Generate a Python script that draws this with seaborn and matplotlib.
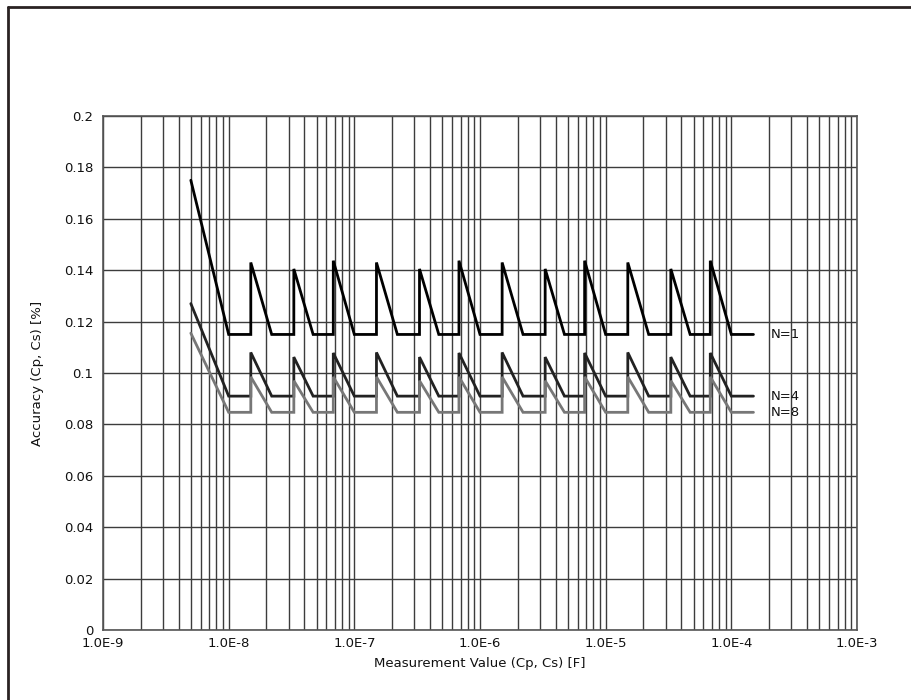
import numpy as np
import pandas as pd
import matplotlib
matplotlib.use("Agg")
import matplotlib.pyplot as plt
from matplotlib.lines import Line2D
import matplotlib.ticker as mticker
import seaborn as sns

# ---- data ----
x_values = [5e-9,
            1e-8, 1.5e-8, 1.5e-8, 2.2e-8, 3.3e-8, 3.3e-8, 4.7e-8, 6.8e-8, 6.8e-8,
            1e-7, 1.5e-7, 1.5e-7, 2.2e-7, 3.3e-7, 3.3e-7, 4.7e-7, 6.8e-7, 6.8e-7,
            1e-6, 1.5e-6, 1.5e-6, 2.2e-6, 3.3e-6, 3.3e-6, 4.7e-6, 6.8e-6, 6.8e-6,
            1e-5, 1.5e-5, 1.5e-5, 2.2e-5, 3.3e-5, 3.3e-5, 4.7e-5, 6.8e-5, 6.8e-5,
            1e-4, 1.5e-4]

n1_values = [0.175,
             0.115, 0.115, 0.143, 0.115, 0.115, 0.1405, 0.115, 0.115, 0.1437,
             0.115, 0.115, 0.143, 0.115, 0.115, 0.1405, 0.115, 0.115, 0.1437,
             0.115, 0.115, 0.143, 0.115, 0.115, 0.1405, 0.115, 0.115, 0.1437,
             0.115, 0.115, 0.143, 0.115, 0.115, 0.1405, 0.115, 0.115, 0.1437,
             0.115, 0.115]

n4_values = [0.127,
             0.091, 0.091, 0.108, 0.091, 0.091, 0.1062, 0.091, 0.091, 0.1078,
             0.091, 0.091, 0.108, 0.091, 0.091, 0.1062, 0.091, 0.091, 0.1078,
             0.091, 0.091, 0.108, 0.091, 0.091, 0.1062, 0.091, 0.091, 0.1078,
             0.091, 0.091, 0.108, 0.091, 0.091, 0.1062, 0.091, 0.091, 0.1078,
             0.091, 0.091]

n8_values = [0.1155,
             0.0847, 0.0847, 0.0985, 0.0847, 0.0847, 0.097, 0.0847, 0.0847, 0.0985,
             0.0847, 0.0847, 0.0985, 0.0847, 0.0847, 0.097, 0.0847, 0.0847, 0.0985,
             0.0847, 0.0847, 0.0985, 0.0847, 0.0847, 0.097, 0.0847, 0.0847, 0.0985,
             0.0847, 0.0847, 0.0985, 0.0847, 0.0847, 0.097, 0.0847, 0.0847, 0.0985,
             0.0847, 0.0847]

series_names = ["N=1", "N=4", "N=8"]
series_colors = ["#000000", "#222222", "#777777"]

x_ticks = [1e-9, 1e-8, 1e-7, 1e-6, 1e-5, 1e-4, 1e-3]
x_tick_labels = ["1.0E-9", "1.0E-8", "1.0E-7", "1.0E-6", "1.0E-5", "1.0E-4", "1.0E-3"]
y_ticks = [0, 0.02, 0.04, 0.06, 0.08, 0.1, 0.12, 0.14, 0.16, 0.18, 0.2]
y_tick_labels = ["0", "0.02", "0.04", "0.06", "0.08", "0.1", "0.12", "0.14", "0.16", "0.18", "0.2"]

# ---- build long table ----
frames = []
for name, vals in zip(series_names, [n1_values, n4_values, n8_values]):
    frames.append(pd.DataFrame({"x": x_values, "y": vals, "series": name,
                                "order": np.arange(len(x_values))}))
df = pd.concat(frames, ignore_index=True)

sns.set_style("white")
plt.rcParams['font.family'] = ['DejaVu Sans']

fig = plt.figure(figsize=(9.11, 7.0), dpi=100)
ax = fig.add_axes([103 / 911, 1 - 630 / 700, (857 - 103) / 911, (630 - 116) / 700])

ax.set_xscale("log")
ax.set_xlim(1e-9, 1e-3)
ax.set_ylim(0, 0.2)

# grid
ax.xaxis.set_major_locator(mticker.FixedLocator(x_ticks))
ax.xaxis.set_minor_locator(mticker.LogLocator(base=10, subs=np.arange(2, 10)))
ax.xaxis.set_minor_formatter(mticker.NullFormatter())
ax.set_xticks(x_ticks)
ax.set_xticklabels(x_tick_labels)
ax.set_yticks(y_ticks)
ax.set_yticklabels(y_tick_labels)
ax.grid(True, which="major", axis="both", color="#3c3c3c", lw=1.0)
ax.grid(True, which="minor", axis="x", color="#3c3c3c", lw=1.0)
ax.set_axisbelow(True)
ax.tick_params(axis="both", which="both", length=0, labelsize=9.5, colors="#111111")
ax.tick_params(axis="x", pad=5)
ax.tick_params(axis="y", pad=7)
for s in ax.spines.values():
    s.set_color("#555555")
    s.set_linewidth(1.2)

for name, color in zip(series_names, series_colors):
    sub = df[df["series"] == name]
    sns.lineplot(data=sub, x="x", y="y", sort=False, estimator=None, ax=ax,
                 color=color, lw=2.0, legend=False)
    ax.lines[-1].set_solid_joinstyle("miter")

label_x = 2.05e-4
for name, vals in zip(series_names, [n1_values, n4_values, n8_values]):
    ax.text(label_x, vals[-1], name, ha="left", va="center", fontsize=9.5,
            color="#111111", clip_on=False)

ax.set_xlabel("Measurement Value (Cp, Cs) [F]", fontsize=9.5, color="#111111", labelpad=5)
ax.set_ylabel("Accuracy (Cp, Cs) [%]", fontsize=9.5, color="#111111", labelpad=14)

# outer frame (left and top visible)
fig.add_artist(Line2D([8 / 911, 8 / 911], [0, 1 - 7 / 700], color="#2a2222", lw=2,
                      transform=fig.transFigure))
fig.add_artist(Line2D([8 / 911, 1], [1 - 7 / 700, 1 - 7 / 700], color="#2a2222", lw=2,
                      transform=fig.transFigure))

fig.savefig("out.png", dpi=100)
